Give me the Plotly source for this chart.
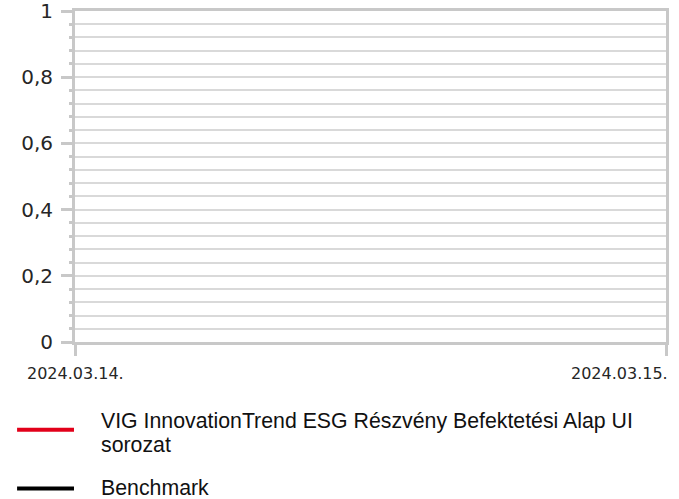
import plotly.graph_objects as go

# ---- data ----
categories = ["2024.03.14.", "2024.03.15."]
fund_name_lines = ["VIG InnovationTrend ESG Részvény Befektetési Alap UI", "sorozat"]
benchmark_name = "Benchmark"
fund_values = [None, None]
benchmark_values = [None, None]
y_tickvals = [0, 0.2, 0.4, 0.6, 0.8, 1]

FUND_COLOR = "#e2001a"
BENCH_COLOR = "#000000"
AXIS_COLOR = "#c8c8c8"
GRID_COLOR = "#d9d9d9"
TEXT_COLOR = "#262626"

fig = go.Figure()
fig.add_trace(go.Scatter(x=categories, y=fund_values, mode="lines", name=" ".join(fund_name_lines),
                         line=dict(color=FUND_COLOR, width=3), showlegend=False))
fig.add_trace(go.Scatter(x=categories, y=benchmark_values, mode="lines", name=benchmark_name,
                         line=dict(color=BENCH_COLOR, width=3), showlegend=False))

fig.update_layout(
    width=679, height=499,
    margin=dict(l=75, r=13, t=11, b=157),
    paper_bgcolor="white", plot_bgcolor="white",
    separators=", ",
    showlegend=False,
)

fig.update_xaxes(
    type="category", categoryorder="array", categoryarray=categories,
    range=[0, 1], showticklabels=False, automargin=False,
    ticks="outside", ticklen=11, tickwidth=3, tickcolor=AXIS_COLOR,
    showgrid=False, zeroline=False,
    showline=True, linecolor=AXIS_COLOR, linewidth=3, mirror=True,
)
fig.update_yaxes(
    range=[0, 1], tickvals=y_tickvals, automargin=False, ticklabeloverflow="allow",
    ticks="outside", ticklen=11, tickwidth=3, tickcolor=AXIS_COLOR, ticklabelstandoff=4,
    tickfont=dict(family="DejaVu Sans", size=20, color=TEXT_COLOR),
    showgrid=True, gridcolor=GRID_COLOR, gridwidth=2,
    zeroline=False,
    showline=True, linecolor=AXIS_COLOR, linewidth=3, mirror=True,
    minor=dict(dtick=0.04, ticks="outside", ticklen=3, tickwidth=3, tickcolor=AXIS_COLOR,
               showgrid=True, gridcolor=GRID_COLOR, gridwidth=2),
)

# x tick labels (first centred on its tick, last kept inside the figure)
anchors = ["center", "right"]
shifts = [0, 4]
for i, lab in enumerate(categories):
    fig.add_annotation(x=i, xref="x", y=0, yref="y", text=lab, showarrow=False,
                       xanchor=anchors[i], yanchor="top", xshift=shifts[i], yshift=-20,
                       font=dict(family="DejaVu Sans", size=16, color=TEXT_COLOR))

# legend drawn below the chart
LEG_FONT = dict(family="Liberation Sans", size=21.3, color="#111111")
legend_lines = [(FUND_COLOR, -0.2651), (BENCH_COLOR, -0.4428)]
for color, ypos in legend_lines:
    fig.add_shape(type="line", xref="paper", yref="paper", x0=-0.098, x1=-0.0017, y0=ypos, y1=ypos,
                  line=dict(color=color, width=4))
legend_texts = [(fund_name_lines[0], -0.2395), (fund_name_lines[1], -0.3117), (benchmark_name, -0.4413)]
for txt, ypos in legend_texts:
    fig.add_annotation(x=0.0405, xref="paper", y=ypos, yref="paper", text=txt, showarrow=False,
                       xanchor="left", yanchor="middle", align="left", font=LEG_FONT)

fig.write_html("out.html", config={"displayModeBar": False},
               post_script="document.body.style.margin='0';")
